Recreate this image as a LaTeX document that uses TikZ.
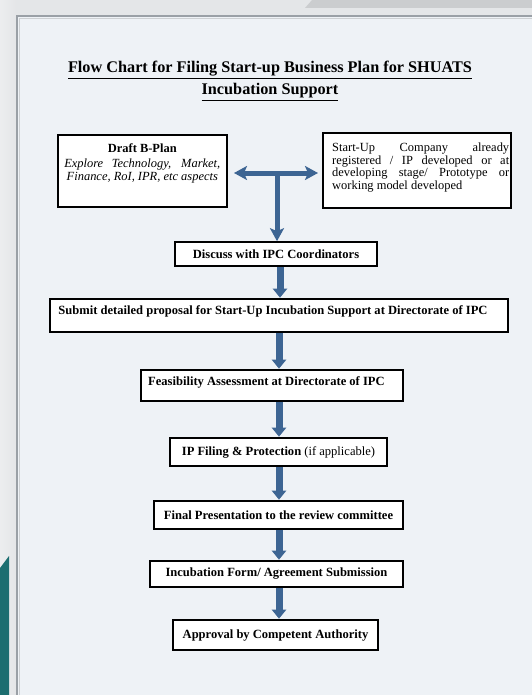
\documentclass[tikz,border=0pt]{standalone}
\usepackage{fontspec}
\setmainfont{Liberation Serif}
\usetikzlibrary{arrows.meta,shadings}
\definecolor{pagebg}{HTML}{EEF2F6}
\definecolor{outbg}{HTML}{E4E6E8}
\definecolor{framec}{HTML}{9AA0A6}
\definecolor{arrowc}{HTML}{3D6593}
\definecolor{tealc}{HTML}{1C6E70}
\definecolor{topdark}{HTML}{CBCDCF}
\tikzset{
  boxfont/.style={font=\bfseries\fontsize{12.6}{14}\selectfont},
  box/.style={draw=black, line width=1.6bp, fill=white, inner sep=0pt, boxfont},
  flow/.style={arrowc, line width=7bp, -{Triangle[width=14bp,length=9bp]}, shorten >=0.5bp},
  tee/.style={arrowc, line width=5bp, -{Stealth[width=14bp,length=13bp,inset=3bp]}},
}
\begin{document}
\begin{tikzpicture}[x=1bp,y=-1bp]
\useasboundingbox (0,0) rectangle (532,695);
% outer background
\fill[outbg] (0,0) rectangle (532,695);
\shade[left color=outbg!70!white, right color=outbg] (0,0) rectangle (16,695);
\fill[topdark] (312,0) -- (532,0) -- (532,8) -- (305,8) -- cycle;
\fill[tealc] (0,568) -- (9,556) -- (9,695) -- (0,695) -- cycle;
% page
\fill[pagebg] (17,16) rectangle (532,695);
\draw[framec, line width=1.8bp] (17,695) -- (17,16) -- (532,16);
\draw[framec!50, line width=0.8bp] (19.5,695) -- (19.5,18.5) -- (532,18.5);
% title
\node (t1) at (270,70) {\bfseries\fontsize{16.3}{18}\selectfont\underline{Flow Chart for Filing Start-up Business Plan for SHUATS}};
\node (t2) at (270,92) {\bfseries\fontsize{16.3}{18}\selectfont\underline{Incubation Support}};
% top boxes
\node[box, minimum width=169bp, minimum height=72bp, anchor=north west] (draft) at (57,134) {};
\node[anchor=north, align=center, inner sep=0pt, font=\fontsize{12.5}{13}\selectfont] (drafttxt) at ([yshift=-10bp]draft.north)
  {\textbf{Draft B-Plan}\\[1.5bp]\itshape\makebox[156bp][s]{Explore Technology, Market,}\\\itshape Finance, RoI, IPR, etc aspects};
\node[box, minimum width=188bp, minimum height=75bp, anchor=north west] (startup) at (322,132) {};
\node[anchor=north west, inner sep=0pt, align=left, font=\fontsize{12.5}{12.8}\selectfont] (startuptxt) at (332,142.5)
  {\makebox[177bp][s]{Start-Up Company already}\\\makebox[177bp][s]{registered / IP developed or at}\\\makebox[177bp][s]{developing stage/ Prototype or}\\working model developed};
% T junction
\coordinate (tj) at (277,173);
\coordinate (tl) at (234,173);
\coordinate (tr) at (318,173);
\coordinate (col) at (279,0);
\coordinate (col2) at (280,0);
% flow boxes
\node[box, minimum width=202bp, minimum height=24bp] (discuss) at (276,254) {Discuss with IPC Coordinators};
\node[box, minimum width=458bp, minimum height=33bp] (submit) at (279,315.5) {};
\node[boxfont, inner sep=0pt] (submittxt) at (273,311) {Submit detailed proposal for Start-Up Incubation Support at Directorate of IPC};
\node[box, minimum width=262bp, minimum height=31bp] (feas) at (272,385.5) {};
\node[boxfont, inner sep=0pt, anchor=west] (feastxt) at (148,382) {Feasibility Assessment at Directorate of IPC};
\node[box, minimum width=217bp, minimum height=28bp] (ip) at (278.5,452) {IP Filing \& Protection \mdseries(if applicable)};
\node[box, minimum width=249bp, minimum height=28bp] (final) at (278.5,515) {Final Presentation to the review committee};
\node[box, minimum width=253bp, minimum height=26bp] (incub) at (276.5,574) {Incubation Form/ Agreement Submission};
\node[box, minimum width=205bp, minimum height=30bp] (appr) at (275.5,635) {Approval by Competent Authority};
% connectors
\draw[tee] (tj) -- (tl);
\draw[tee] (tj) -- (tr);
\draw[tee] (tj) -- (tj |- discuss.north);
\draw[flow] (discuss.south -| col2) -- (submit.north -| col2);
\draw[flow] (submit.south -| col) -- (feas.north -| col);
\draw[flow] (feas.south -| col) -- (ip.north -| col);
\draw[flow] (ip.south -| col) -- (final.north -| col);
\draw[flow] (final.south -| col) -- (incub.north -| col);
\draw[flow] (incub.south -| col) -- (appr.north -| col);
\end{tikzpicture}
\end{document}
